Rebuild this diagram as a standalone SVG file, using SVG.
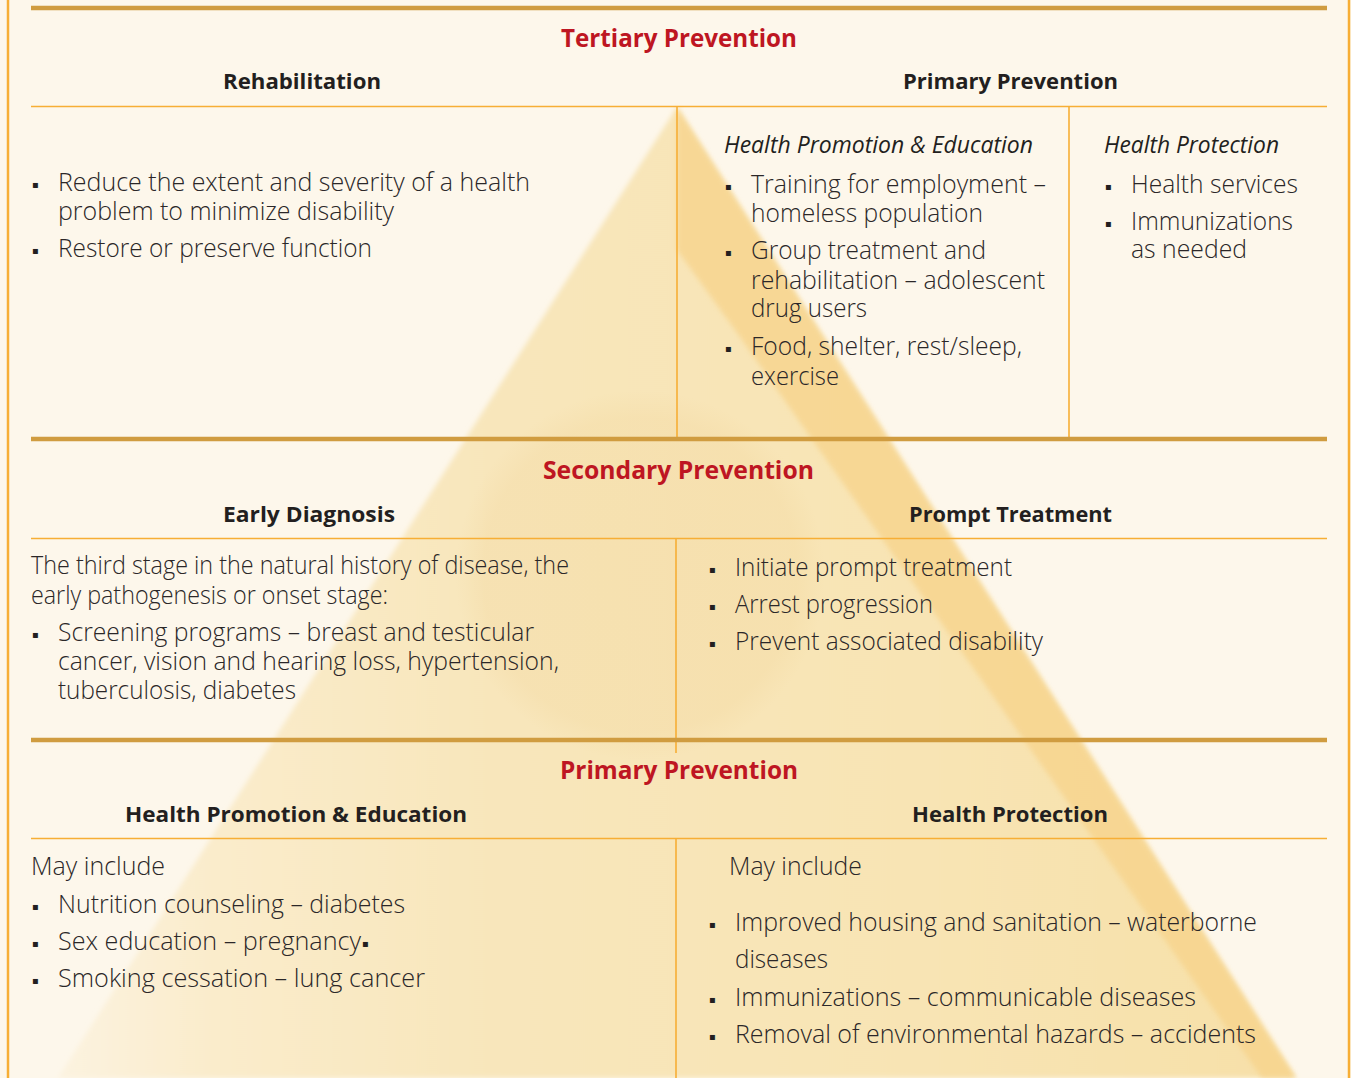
<svg xmlns="http://www.w3.org/2000/svg" width="1351" height="1078" viewBox="0 0 1351 1078">
<style>
.t{font-family:"Open Sans","Liberation Sans",sans-serif;font-weight:700;font-size:25px;fill:#be1622}
.h{font-family:"Open Sans","Liberation Sans",sans-serif;font-weight:700;font-size:22px;fill:#231f20}
.hi{font-family:"Open Sans","Liberation Sans",sans-serif;font-style:italic;font-size:23px;fill:#231f20}
.b{font-family:"Open Sans","Liberation Sans",sans-serif;font-weight:300;font-size:26px;fill:#2b2728}
.bu{font-family:"DejaVu Sans",sans-serif;font-size:10px;fill:#231f20}
.thick{stroke:#d09c40;stroke-width:4.5;fill:none}
.thin{stroke:#f7ae35;stroke-width:1.6;fill:none}
.border{stroke:#f7ae35;stroke-width:2.5;fill:none}
</style>
<defs>
<linearGradient id="pyr" x1="58" y1="0" x2="1296" y2="0" gradientUnits="userSpaceOnUse">
<stop offset="0" stop-color="#fcf3e0"/>
<stop offset="0.12" stop-color="#faeccc"/>
<stop offset="0.35" stop-color="#f8e6bb"/>
<stop offset="0.7" stop-color="#f8e4b4"/>
<stop offset="1" stop-color="#f7e0a8"/>
</linearGradient>
<radialGradient id="emb" cx="0.5" cy="0.5" r="0.5">
<stop offset="0" stop-color="#efcf8f" stop-opacity="0.22"/>
<stop offset="0.85" stop-color="#efcf8f" stop-opacity="0.2"/>
<stop offset="1" stop-color="#efcf8f" stop-opacity="0"/>
</radialGradient>
<filter id="soft" x="-5%" y="-5%" width="110%" height="110%"><feGaussianBlur stdDeviation="2.5"/></filter>
</defs>
<rect x="0" y="0" width="1351" height="1078" fill="#fdf7eb"/>
<g id="pyramid">
<polygon points="677,107 1296,1078 58,1078" fill="url(#pyr)" filter="url(#soft)"/>
<circle cx="640" cy="575" r="185" fill="url(#emb)"/>
<polygon points="677,107 1296,1078 1262,1078 735,330 677,250" fill="#f7d38a" opacity="0.75" filter="url(#soft)"/>
</g>
<g id="rules">
<line class="border" x1="8" y1="0" x2="8" y2="1078"/>
<line class="border" x1="1349" y1="0" x2="1349" y2="1078"/>
<line class="thick" x1="31" y1="8" x2="1327" y2="8"/>
<line class="thin" x1="31" y1="106.5" x2="1327" y2="106.5"/>
<line class="thin" x1="677" y1="106" x2="677" y2="438"/>
<line class="thin" x1="1069" y1="106" x2="1069" y2="438"/>
<line class="thick" x1="31" y1="439" x2="1327" y2="439"/>
<line class="thin" x1="31" y1="538.5" x2="1327" y2="538.5"/>
<line class="thin" x1="676" y1="538" x2="676" y2="753"/>
<line class="thick" x1="31" y1="740" x2="1327" y2="740"/>
<line class="thin" x1="31" y1="838.5" x2="1327" y2="838.5"/>
<line class="thin" x1="676" y1="838" x2="676" y2="1078"/>
</g>
<g id="tertiary">
<text class="t" x="561" y="47" textLength="236" lengthAdjust="spacingAndGlyphs">Tertiary Prevention</text>
<text class="h" x="223" y="89" textLength="158" lengthAdjust="spacingAndGlyphs">Rehabilitation</text>
<text class="h" x="903" y="89" textLength="215" lengthAdjust="spacingAndGlyphs">Primary Prevention</text>
</g>
<g id="rehabilitation">
<text class="bu" x="32" y="188">▪</text>
<text class="b" x="58" y="191" textLength="472" lengthAdjust="spacingAndGlyphs">Reduce the extent and severity of a health</text>
<text class="b" x="58" y="220" textLength="336" lengthAdjust="spacingAndGlyphs">problem to minimize disability</text>
<text class="bu" x="32" y="254">▪</text>
<text class="b" x="58" y="257" textLength="314" lengthAdjust="spacingAndGlyphs">Restore or preserve function</text>
</g>
<g id="tertiary-promotion">
<text class="hi" x="724" y="153" textLength="309" lengthAdjust="spacingAndGlyphs">Health Promotion &amp; Education</text>
<text class="bu" x="725" y="190">▪</text>
<text class="b" x="751" y="193" textLength="295" lengthAdjust="spacingAndGlyphs">Training for employment –</text>
<text class="b" x="751" y="222" textLength="232" lengthAdjust="spacingAndGlyphs">homeless population</text>
<text class="bu" x="725" y="256">▪</text>
<text class="b" x="751" y="259" textLength="235" lengthAdjust="spacingAndGlyphs">Group treatment and</text>
<text class="b" x="751" y="289" textLength="294" lengthAdjust="spacingAndGlyphs">rehabilitation – adolescent</text>
<text class="b" x="751" y="317" textLength="116" lengthAdjust="spacingAndGlyphs">drug users</text>
<text class="bu" x="725" y="352">▪</text>
<text class="b" x="751" y="355" textLength="271" lengthAdjust="spacingAndGlyphs">Food, shelter, rest/sleep,</text>
<text class="b" x="751" y="385" textLength="88" lengthAdjust="spacingAndGlyphs">exercise</text>
</g>
<g id="tertiary-protection">
<text class="hi" x="1104" y="153" textLength="175" lengthAdjust="spacingAndGlyphs">Health Protection</text>
<text class="bu" x="1105" y="190">▪</text>
<text class="b" x="1131" y="193" textLength="167" lengthAdjust="spacingAndGlyphs">Health services</text>
<text class="bu" x="1105" y="227">▪</text>
<text class="b" x="1131" y="230" textLength="162" lengthAdjust="spacingAndGlyphs">Immunizations</text>
<text class="b" x="1131" y="258" textLength="116" lengthAdjust="spacingAndGlyphs">as needed</text>
</g>
<g id="secondary">
<text class="t" x="543" y="479" textLength="271" lengthAdjust="spacingAndGlyphs">Secondary Prevention</text>
<text class="h" x="223" y="522" textLength="172" lengthAdjust="spacingAndGlyphs">Early Diagnosis</text>
<text class="h" x="909" y="522" textLength="203" lengthAdjust="spacingAndGlyphs">Prompt Treatment</text>
</g>
<g id="early-diagnosis">
<text class="b" x="31" y="574" textLength="538" lengthAdjust="spacingAndGlyphs">The third stage in the natural history of disease, the</text>
<text class="b" x="31" y="604" textLength="357" lengthAdjust="spacingAndGlyphs">early pathogenesis or onset stage:</text>
<text class="bu" x="32" y="638">▪</text>
<text class="b" x="58" y="641" textLength="476" lengthAdjust="spacingAndGlyphs">Screening programs – breast and testicular</text>
<text class="b" x="58" y="670" textLength="501" lengthAdjust="spacingAndGlyphs">cancer, vision and hearing loss, hypertension,</text>
<text class="b" x="58" y="699" textLength="238" lengthAdjust="spacingAndGlyphs">tuberculosis, diabetes</text>
</g>
<g id="prompt-treatment">
<text class="bu" x="709" y="573">▪</text>
<text class="b" x="735" y="576" textLength="277" lengthAdjust="spacingAndGlyphs">Initiate prompt treatment</text>
<text class="bu" x="709" y="610">▪</text>
<text class="b" x="735" y="613" textLength="198" lengthAdjust="spacingAndGlyphs">Arrest progression</text>
<text class="bu" x="709" y="647">▪</text>
<text class="b" x="735" y="650" textLength="308" lengthAdjust="spacingAndGlyphs">Prevent associated disability</text>
</g>
<g id="primary">
<text class="t" x="560" y="779" textLength="238" lengthAdjust="spacingAndGlyphs">Primary Prevention</text>
<text class="h" x="125" y="822" textLength="342" lengthAdjust="spacingAndGlyphs">Health Promotion &amp; Education</text>
<text class="h" x="912" y="822" textLength="196" lengthAdjust="spacingAndGlyphs">Health Protection</text>
</g>
<g id="primary-promotion">
<text class="b" x="31" y="875" textLength="134" lengthAdjust="spacingAndGlyphs">May include</text>
<text class="bu" x="32" y="910">▪</text>
<text class="b" x="58" y="913" textLength="347" lengthAdjust="spacingAndGlyphs">Nutrition counseling – diabetes</text>
<text class="bu" x="32" y="947">▪</text>
<text class="b" x="58" y="950" textLength="303" lengthAdjust="spacingAndGlyphs">Sex education – pregnancy</text>
<text class="bu" x="362" y="947">▪</text>
<text class="bu" x="32" y="984">▪</text>
<text class="b" x="58" y="987" textLength="367" lengthAdjust="spacingAndGlyphs">Smoking cessation – lung cancer</text>
</g>
<g id="primary-protection">
<text class="b" x="729" y="875" textLength="133" lengthAdjust="spacingAndGlyphs">May include</text>
<text class="bu" x="709" y="928">▪</text>
<text class="b" x="735" y="931" textLength="522" lengthAdjust="spacingAndGlyphs">Improved housing and sanitation – waterborne</text>
<text class="b" x="735" y="968" textLength="93" lengthAdjust="spacingAndGlyphs">diseases</text>
<text class="bu" x="709" y="1003">▪</text>
<text class="b" x="735" y="1006" textLength="461" lengthAdjust="spacingAndGlyphs">Immunizations – communicable diseases</text>
<text class="bu" x="709" y="1040">▪</text>
<text class="b" x="735" y="1043" textLength="521" lengthAdjust="spacingAndGlyphs">Removal of environmental hazards – accidents</text>
</g>
</svg>
